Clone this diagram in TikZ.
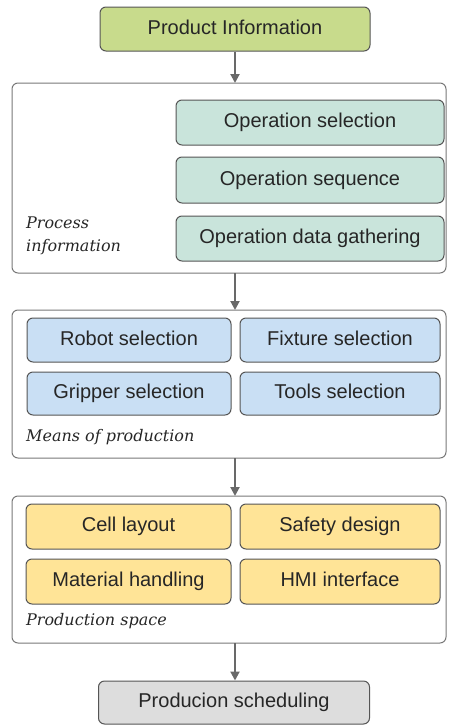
\documentclass[tikz,border=0pt]{standalone}
\usepackage{fontspec}
\setmainfont{Liberation Sans}
\newfontfamily\labfont{DejaVu Serif}
\usetikzlibrary{arrows.meta}
\definecolor{cgreen}{RGB}{200,219,140}
\definecolor{cteal}{RGB}{201,228,219}
\definecolor{cblue}{RGB}{201,223,244}
\definecolor{cyellow}{RGB}{255,228,151}
\definecolor{cgray}{RGB}{221,221,221}
\definecolor{cedge}{RGB}{85,85,85}
\definecolor{cframe}{RGB}{120,120,120}
\definecolor{carrow}{RGB}{105,105,105}
\begin{document}
\begin{tikzpicture}[x=1pt,y=-1pt,
  box/.style={draw=cedge,line width=1pt,rounded corners=6pt,inner sep=0pt,text height=14pt,text depth=4pt,font=\fontsize{20}{22}\selectfont,text=black!85},
  frame/.style={draw=cframe,line width=1pt,rounded corners=6pt},
  lab/.style={font=\labfont\itshape\fontsize{16}{23}\selectfont,anchor=west,align=left,inner sep=0pt,text=black!85},
  arr/.style={draw=carrow,line width=2pt,-{Triangle[length=9pt,width=9pt]}}]
\useasboundingbox (0,0) rectangle (448,726);
% frames
\draw[frame] (12,83) rectangle (446,273);
\draw[frame] (12,310) rectangle (446,458);
\draw[frame] (12,496) rectangle (446,643);
\coordinate (f1t) at (235,83);
\coordinate (f1b) at (235,273);
\coordinate (f2t) at (235,310);
\coordinate (f2b) at (235,458);
\coordinate (f3t) at (235,496);
\coordinate (f3b) at (235,643);
% top and bottom
\node[box,fill=cgreen,minimum width=270pt,minimum height=44pt] (prod) at (235,29) {Product Information};
\node[box,fill=cgray,minimum width=271pt,minimum height=43pt] (sched) at (234,702.5) {Producion scheduling};
% process info
\node[box,fill=cteal,minimum width=268pt,minimum height=45pt] (os) at (310,122.5) {Operation selection};
\node[box,fill=cteal,minimum width=268pt,minimum height=46pt] (oq) at (310,180) {Operation sequence};
\node[box,fill=cteal,minimum width=268pt,minimum height=45pt] (od) at (310,238.5) {Operation data gathering};
\node[lab] (pi) at (26,236) {Process\\information};
% means
\node[box,fill=cblue,minimum width=204pt,minimum height=44pt] (rs) at (129,340) {Robot selection};
\node[box,fill=cblue,minimum width=200pt,minimum height=44pt] (fs) at (340,340) {Fixture selection};
\node[box,fill=cblue,minimum width=204pt,minimum height=43pt] (gs) at (129,393.5) {Gripper selection};
\node[box,fill=cblue,minimum width=200pt,minimum height=43pt] (ts) at (340,393.5) {Tools selection};
\node[lab] (mp) at (26,437) {Means of production};
% production space
\node[box,fill=cyellow,minimum width=205pt,minimum height=45pt] (cl) at (128.5,526.5) {Cell layout};
\node[box,fill=cyellow,minimum width=200pt,minimum height=45pt] (sd) at (340,526.5) {Safety design};
\node[box,fill=cyellow,minimum width=205pt,minimum height=45pt] (mh) at (128.5,581.5) {Material handling};
\node[box,fill=cyellow,minimum width=200pt,minimum height=45pt] (hmi) at (340,581.5) {HMI interface};
\node[lab] (ps) at (26,621) {Production space};
% arrows
\draw[arr] (prod.south) -- (f1t);
\draw[arr] (f1b) -- (f2t);
\draw[arr] (f2b) -- (f3t);
\draw[arr] (f3b) -- (sched.north-|f3b);
\end{tikzpicture}
\end{document}
